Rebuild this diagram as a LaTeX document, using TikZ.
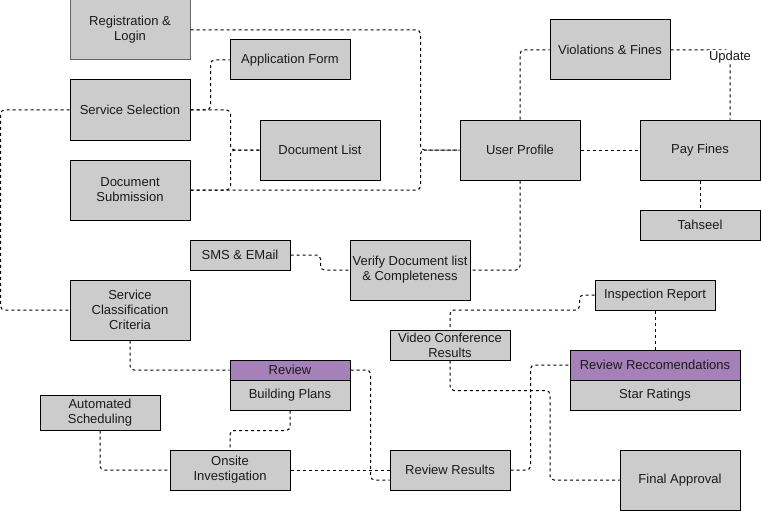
\documentclass[tikz,border=0pt]{standalone}
\usepackage{fontspec}
\setmainfont{Liberation Sans}
\definecolor{boxgray}{HTML}{CCCCCC}
\definecolor{hdrpurple}{HTML}{A680B8}
\definecolor{edgegray}{HTML}{666666}
\definecolor{txt}{HTML}{1A1A1A}
\begin{document}
\begin{tikzpicture}[x=1pt,y=-1pt,
  box/.style={draw=black, fill=boxgray, line width=1pt, inner sep=0pt, align=center,
    font=\fontsize{13}{15}\selectfont, text=txt},
  hdr/.style={box, fill=hdrpurple},
  conn/.style={draw=black, line width=1pt, dash pattern=on 3pt off 3pt, rounded corners=4pt},
  lbl/.style={fill=white, inner sep=1pt, font=\fontsize{13}{15}\selectfont, text=txt}]
\useasboundingbox (0,0) rectangle (761,511);
% nodes
\node[box, draw=edgegray, minimum width=120pt, minimum height=60pt] (reg) at (130,30) {Registration \&\\Login};
\node[box, minimum width=120pt, minimum height=40pt] (app) at (290,60) {Application Form};
\node[box, minimum width=120pt, minimum height=60pt] (sel) at (130,110) {Service Selection};
\node[box, minimum width=120pt, minimum height=60pt] (dl) at (320,150) {Document List};
\node[box, minimum width=120pt, minimum height=60pt] (sub) at (130,190) {Document\\Submission};
\node[box, minimum width=120pt, minimum height=60pt] (vf) at (610,50) {Violations \& Fines};
\node[box, minimum width=120pt, minimum height=60pt] (up) at (520,150) {User Profile};
\node[box, minimum width=120pt, minimum height=60pt] (pf) at (700,150) {Pay Fines};
\node[box, minimum width=120pt, minimum height=30pt] (tah) at (700,225) {Tahseel};
\node[box, minimum width=100pt, minimum height=30pt] (sms) at (240,255) {SMS \& EMail};
\node[box, minimum width=120pt, minimum height=60pt] (ver) at (410,270) {Verify Document list\\\& Completeness};
\node[box, minimum width=120pt, minimum height=60pt] (scc) at (130,310) {Service\\Classification\\Criteria};
\node[hdr, minimum width=120pt, minimum height=20pt] (rev) at (290,370) {Review};
\node[box, minimum width=120pt, minimum height=30pt] (bp) at (290,395) {Building Plans};
\node[box, minimum width=120pt, minimum height=35pt] (auto) at (100,412.5) {Automated\\Scheduling};
\node[box, minimum width=120pt, minimum height=40pt] (ons) at (230,470) {Onsite\\Investigation};
\node[box, minimum width=120pt, minimum height=40pt] (rr) at (450,470) {Review Results};
\node[box, minimum width=120pt, minimum height=30pt] (vc) at (450,345) {Video Conference\\Results};
\node[box, minimum width=120pt, minimum height=30pt] (ir) at (655,295) {Inspection Report};
\node[hdr, minimum width=170pt, minimum height=30pt] (rrec) at (655,365) {Review Reccomendations};
\node[box, minimum width=170pt, minimum height=30pt] (sr) at (655,395) {Star Ratings};
\node[box, minimum width=120pt, minimum height=60pt] (fa) at (680,480) {Final Approval};
% connectors
\draw[conn] (reg.east) -- ++(230,0) |- (up.west);
\draw[conn] (sub.east) -- ++(230,0) |- (up.west);
\draw[conn] (sel.east) -- ++(20,0) |- (app.west);
\draw[conn] (sel.east) -- ++(40,0) |- (dl.west);
\draw[conn] (sub.east) -- ++(40,0) |- (dl.west);
\draw[conn] (sel.west) -- ++(-69,0) |- (scc.west);
\draw[conn] (up.north) |- (vf.west);
\draw[conn] (vf.east) -| ([xshift=30pt]pf.north);
\node[lbl] (upd) at (730,57) {Update};
\draw[conn] (up.east) -- (pf.west);
\draw[conn] (pf.south) -- (tah.north);
\draw[conn] (up.south) |- (ver.east);
\draw[conn] (sms.east) -- ++(30,0) |- (ver.west);
\draw[conn] (scc.south) |- (rev.west);
\draw[conn] (auto.south) |- (ons.west);
\draw[conn] (bp.south) -- ++(0,20) -| (ons.north);
\draw[conn] (ons.east) -- (rr.west);
\draw[conn] (rev.east) -- ++(20,0) |- ([yshift=-10pt]rr.west);
\draw[conn] (ir.west) -- ++(-15,0) -- ++(0,15) -| (vc.north);
\draw[conn] (vc.south) -- ++(0,30) -- ++(100,0) |- (fa.west);
\draw[conn] (rr.east) -- ++(20,0) |- (rrec.west);
\draw[conn] (ir.south) -- (rrec.north);
\end{tikzpicture}
\end{document}
